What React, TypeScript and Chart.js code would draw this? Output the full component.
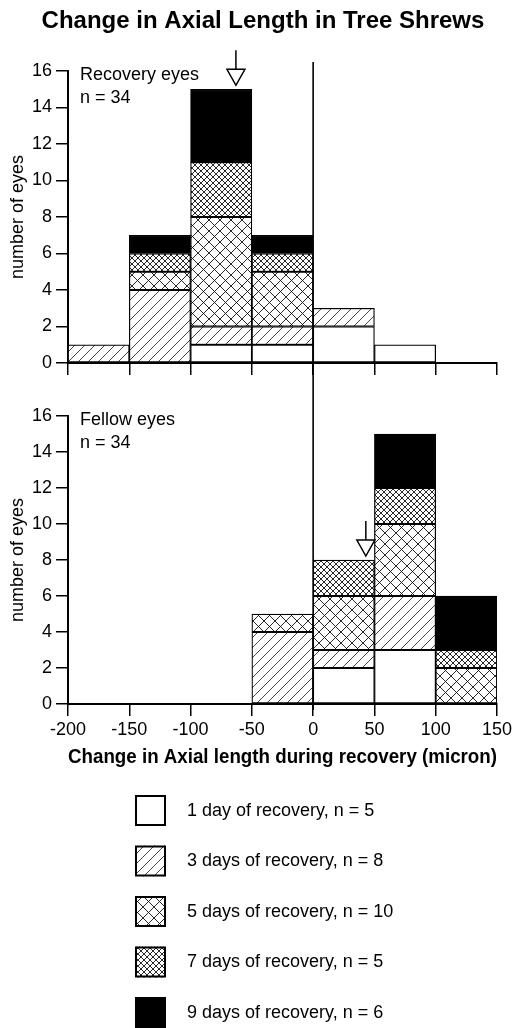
import { useEffect, useRef } from 'react';
import { Chart, registerables } from 'chart.js';

Chart.register(...registerables);

const FONT = '"Liberation Sans", Arial, Helvetica, sans-serif';

// ---------- data ----------
const chartTitle = 'Change in Axial Length in Tree Shrews';
const xAxisTitle = 'Change in Axial length during recovery (micron)';
const yAxisTitle = 'number of eyes';
const binCenters = [-175, -125, -75, -25, 25, 75, 125];
const xTickMin = -200;
const xTickMax = 150;
const xTickStep = 50;
const yTickMin = 0;
const yTickMax = 16;
const yTickStep = 2;
const seriesLabels = [
  '1 day of recovery, n = 5',
  '3 days of recovery, n = 8',
  '5 days of recovery, n = 10',
  '7 days of recovery, n = 5',
  '9 days of recovery, n = 6',
];
const seriesFills = ['white', 'diag', 'cross', 'fine', 'black'];

// Recovery eyes (counts per bin)
const recovery1 = [0, 0, 1, 1, 2, 1, 0];
const recovery3 = [1, 4, 1, 1, 1, 0, 0];
const recovery5 = [0, 1, 6, 3, 0, 0, 0];
const recovery7 = [0, 1, 3, 1, 0, 0, 0];
const recovery9 = [0, 1, 4, 1, 0, 0, 0];
const recoveryMean = -63;
const recoveryPanelLabel = 'Recovery eyes';

// Fellow eyes (counts per bin)
const fellow1 = [0, 0, 0, 0, 2, 3, 0];
const fellow3 = [0, 0, 0, 4, 1, 3, 0];
const fellow5 = [0, 0, 0, 1, 3, 4, 2];
const fellow7 = [0, 0, 0, 0, 2, 2, 1];
const fellow9 = [0, 0, 0, 0, 0, 3, 3];
const fellowMean = 43;
const fellowPanelLabel = 'Fellow eyes';

const recoverySeries = [recovery1, recovery3, recovery5, recovery7, recovery9];
const fellowSeries = [fellow1, fellow3, fellow5, fellow7, fellow9];

// ---------- helpers ----------
function makeFill(ctx: CanvasRenderingContext2D, kind: string): any {
  if (kind === 'white') return '#ffffff';
  if (kind === 'black') return '#000000';
  const s = kind === 'diag' ? 10 : kind === 'cross' ? 11 : 6;
  const c = document.createElement('canvas');
  c.width = s;
  c.height = s;
  const g = c.getContext('2d')!;
  g.fillStyle = '#ffffff';
  g.fillRect(0, 0, s, s);
  g.strokeStyle = kind === 'diag' ? '#333' : '#111';
  g.lineWidth = 0.9;
  g.beginPath();
  g.moveTo(-1, s + 1);
  g.lineTo(s + 1, -1);
  g.moveTo(-1, 1);
  g.lineTo(1, -1);
  g.moveTo(s - 1, s + 1);
  g.lineTo(s + 1, s - 1);
  if (kind !== 'diag') {
    g.moveTo(-1, -1);
    g.lineTo(s + 1, s + 1);
    g.moveTo(s - 1, -1);
    g.lineTo(s + 1, 1);
    g.moveTo(-1, s - 1);
    g.lineTo(1, s + 1);
  }
  g.stroke();
  return ctx.createPattern(c, 'repeat');
}

function makeDatasets(series: number[][], fills: any[]) {
  return series.map((vals, k) => ({
    label: seriesLabels[k],
    data: binCenters
      .map((x, i) => ({ x, y: vals[i] }))
      .filter((p) => p.y > 0),
    backgroundColor: fills[k],
    borderColor: '#000',
    borderWidth: 1.25,
    borderSkipped: false as const,
    barPercentage: 1,
    categoryPercentage: 1,
  }));
}

function decorPlugin(cfg: {
  label: string;
  series: number[][];
  mean: number;
  lineTop: number | null;
  lineBottomExtra: number | null;
  legendTop: number | null;
  title: string | null;
}) {
  return {
    id: 'decor',
    afterDatasetsDraw(chart: any) {
      const { ctx, chartArea, scales } = chart;
      const xs = scales.x;
      const ys = scales.y;
      ctx.save();
      // zero line
      const x0 = xs.getPixelForValue(0);
      ctx.strokeStyle = '#000';
      ctx.lineWidth = 1.6;
      ctx.beginPath();
      ctx.moveTo(x0, cfg.lineTop === null ? 0 : chartArea.top + cfg.lineTop);
      ctx.lineTo(
        x0,
        cfg.lineBottomExtra === null ? chart.height : chartArea.bottom + cfg.lineBottomExtra
      );
      ctx.stroke();

      // mean arrow
      const binWidth = binCenters[1] - binCenters[0];
      const bin = Math.floor((cfg.mean - (binCenters[0] - binWidth / 2)) / binWidth);
      const stackTop = cfg.series.reduce((s, arr) => s + arr[bin], 0);
      const ax = xs.getPixelForValue(cfg.mean);
      const tip = ys.getPixelForValue(stackTop) - 4;
      const triH = 16;
      const triW = 18;
      const shaft = 19;
      ctx.lineWidth = 1.5;
      ctx.beginPath();
      ctx.moveTo(ax, tip - triH - shaft);
      ctx.lineTo(ax, tip - triH);
      ctx.stroke();
      ctx.beginPath();
      ctx.moveTo(ax - triW / 2, tip - triH);
      ctx.lineTo(ax + triW / 2, tip - triH);
      ctx.lineTo(ax, tip);
      ctx.closePath();
      ctx.fillStyle = '#fff';
      ctx.fill();
      ctx.stroke();

      // panel label
      const total = cfg.series.reduce((s, arr) => s + arr.reduce((a, b) => a + b, 0), 0);
      ctx.fillStyle = '#000';
      ctx.font = `18px ${FONT}`;
      ctx.textAlign = 'left';
      ctx.textBaseline = 'alphabetic';
      ctx.fillText(cfg.label, chartArea.left + 12, chartArea.top + 9);
      ctx.fillText(`n = ${total}`, chartArea.left + 12, chartArea.top + 32);

      // chart title
      if (cfg.title) {
        ctx.font = `bold 24px ${FONT}`;
        ctx.textAlign = 'center';
        ctx.textBaseline = 'alphabetic';
        ctx.fillText(cfg.title, 263, 28);
      }
      ctx.restore();
    },
    afterDraw(chart: any) {
      if (cfg.legendTop === null) return;
      const { ctx } = chart;
      ctx.save();
      chart.data.datasets.forEach((ds: any, k: number) => {
        const top = cfg.legendTop! + k * 50.5;
        ctx.fillStyle = ds.backgroundColor;
        ctx.fillRect(135, top, 31, 31);
        ctx.strokeStyle = '#000';
        ctx.lineWidth = 2;
        ctx.strokeRect(136, top + 1, 29, 29);
        ctx.fillStyle = '#000';
        ctx.font = `18px ${FONT}`;
        ctx.textAlign = 'left';
        ctx.textBaseline = 'middle';
        ctx.fillText(ds.label, 187, top + 16);
      });
      ctx.restore();
    },
  };
}

function baseScales(showXLabels: boolean, xHeight: number, withXTitle: boolean) {
  return {
    x: {
      type: 'linear' as const,
      min: xTickMin,
      max: xTickMax,
      stacked: true,
      offset: false,
      ticks: {
        stepSize: xTickStep,
        color: showXLabels ? '#000' : 'rgba(0,0,0,0)',
        font: { family: FONT, size: 18 },
        padding: 3,
        maxRotation: 0,
        autoSkip: false,
      },
      grid: {
        display: true,
        drawOnChartArea: false,
        drawTicks: true,
        tickLength: 12,
        color: '#000',
        lineWidth: 1.5,
        offset: false,
      },
      border: { display: true, color: '#000', width: 2 },
      title: {
        display: withXTitle,
        text: xAxisTitle,
        color: '#000',
        font: { family: FONT, size: 20.5, weight: 'bold' as const, lineHeight: 1.2 },
        padding: { top: 0, bottom: 14 },
      },
      afterFit: (s: any) => {
        s.height = xHeight;
      },
    },
    y: {
      stacked: true,
      min: yTickMin,
      max: yTickMax,
      ticks: {
        stepSize: yTickStep,
        color: '#000',
        font: { family: FONT, size: 18 },
        padding: 4,
      },
      grid: {
        display: true,
        drawOnChartArea: false,
        drawTicks: true,
        tickLength: 12,
        color: '#000',
        lineWidth: 1.5,
      },
      border: { display: true, color: '#000', width: 2 },
      title: {
        display: true,
        text: yAxisTitle,
        color: '#000',
        font: { family: FONT, size: 18, lineHeight: 1.2 },
        padding: { top: 7.7, bottom: 0 },
      },
      afterFit: (s: any) => {
        s.width = 68;
      },
    },
  };
}

export default function App() {
  const topRef = useRef<HTMLCanvasElement>(null);
  const botRef = useRef<HTMLCanvasElement>(null);

  useEffect(() => {
    const topCtx = topRef.current!.getContext('2d')!;
    const botCtx = botRef.current!.getContext('2d')!;
    const topFills = seriesFills.map((k) => makeFill(topCtx, k));
    const botFills = seriesFills.map((k) => makeFill(botCtx, k));

    const top = new Chart(topRef.current!, {
      type: 'bar',
      data: { datasets: makeDatasets(recoverySeries, topFills) as any },
      options: {
        responsive: false,
        animation: false,
        devicePixelRatio: 1,
        layout: { padding: { left: 0, right: 16, top: 71, bottom: 0 } },
        plugins: {
          legend: { display: false },
          tooltip: { enabled: false },
          title: { display: false },
        },
        scales: baseScales(false, 27, false) as any,
      },
      plugins: [
        decorPlugin({
          label: recoveryPanelLabel,
          series: recoverySeries,
          mean: recoveryMean,
          lineTop: -9,
          lineBottomExtra: null,
          legendTop: null,
          title: chartTitle,
        }),
      ],
    });

    const bottom = new Chart(botRef.current!, {
      type: 'bar',
      data: { datasets: makeDatasets(fellowSeries, botFills) as any },
      options: {
        responsive: false,
        animation: false,
        devicePixelRatio: 1,
        layout: { padding: { left: 0, right: 16, top: 26, bottom: 244 } },
        plugins: {
          legend: { display: false },
          tooltip: { enabled: false },
          title: { display: false },
        },
        scales: baseScales(true, 80, true) as any,
      },
      plugins: [
        decorPlugin({
          label: fellowPanelLabel,
          series: fellowSeries,
          mean: fellowMean,
          lineTop: null,
          lineBottomExtra: 6,
          legendTop: 795 - 390,
          title: null,
        }),
      ],
    });

    return () => {
      top.destroy();
      bottom.destroy();
    };
  }, []);

  return (
    <div
      style={{
        position: 'absolute',
        left: 0,
        top: 0,
        width: 515,
        height: 1028,
        background: '#fff',
        overflow: 'hidden',
      }}
    >
      <canvas
        ref={topRef}
        width={515}
        height={390}
        style={{ position: 'absolute', left: 0, top: 0, width: 515, height: 390, display: 'block' }}
      />
      <canvas
        ref={botRef}
        width={515}
        height={638}
        style={{ position: 'absolute', left: 0, top: 390, width: 515, height: 638, display: 'block' }}
      />
    </div>
  );
}
